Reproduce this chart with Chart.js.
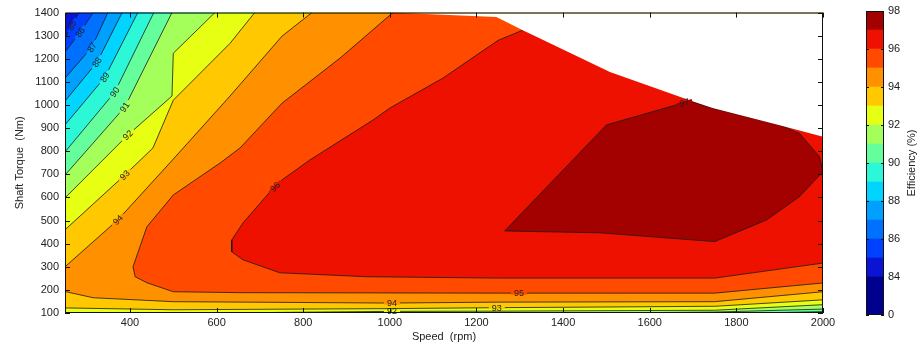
<!DOCTYPE html>
<html>
<head>
<meta charset="utf-8">
<title>Efficiency map</title>
<script src="https://cdn.jsdelivr.net/npm/chart.js@4.4.1/dist/chart.umd.min.js"></script>
<style>
  body { margin: 0; background: #fff; }
  #wrap { position: relative; width: 921px; height: 346px; }
  #map { position: absolute; left: 0; top: 0; }
  #bar { position: absolute; left: 840px; top: 0; }
</style>
</head>
<body>
<div id="wrap">
  <canvas id="map" width="840" height="346"></canvas>
  <canvas id="bar" width="81" height="346"></canvas>
</div>
<script>
Chart.defaults.font.family = '"Liberation Sans", Arial, Helvetica, sans-serif';
Chart.defaults.font.size = 11;
Chart.defaults.color = '#262626';

const speedTicks = [400, 600, 800, 1000, 1200, 1400, 1600, 1800, 2000];
const torqueTicks = [100, 200, 300, 400, 500, 600, 700, 800, 900, 1000, 1100, 1200, 1300, 1400];

// colour bands: 0-84, 84-85, 85-86 ... 97-98
const bandColors = ['#00008f', '#0a14d4', '#0040ff', '#0070ff', '#00a0ff', '#00d4ff', '#2cf8d8',
  '#64ff9c', '#a4ff5a', '#e6ff12', '#ffc800', '#ff9000', '#ff4a00', '#ee1100', '#a30000'];
const barHeights = [2, 1, 1, 1, 1, 1, 1, 1, 1, 1, 1, 1, 1, 1, 1];
const barLabels = ['0', '84', '86', '88', '90', '92', '94', '96', '98'];

// iso-efficiency lines, [rpm, Nm]
const iso85 = [[282, 1400], [250, 1290]];
const iso86 = [[315, 1400], [285, 1315], [250, 1229]];
const iso87 = [[349, 1400], [312, 1250], [250, 1116]];
const iso88 = [[382, 1400], [324, 1185], [250, 1017]];
const iso89 = [[418, 1400], [342, 1120], [250, 914]];
const iso90 = [[455, 1400], [365, 1056], [250, 797]];
const iso90Low = [[1850, 100], [2000, 106]];
const iso91 = [[497, 1400], [388, 991], [250, 697]];
const iso91Low = [[1485, 100], [1750, 104], [2000, 117]];
const iso92 = [[596, 1400], [500, 1224], [497, 1039], [395, 870], [250, 598]];
const iso92Low = [[600, 100], [1000, 107], [1250, 108], [1750, 112], [2000, 136]];
const iso93 = [[688, 1400], [631, 1267], [500, 1021], [453, 814], [388, 697], [250, 460]];
const iso93Low = [[250, 122], [500, 114], [1000, 119], [1250, 123], [1750, 129], [2000, 157]];
const iso94 = [[820, 1400], [751, 1298], [631, 1039], [500, 766], [372, 503], [250, 300]];
const iso94Low = [[250, 193], [315, 166], [500, 149], [1000, 143], [1250, 147], [1750, 149], [2000, 192]];
const iso95 = [[1007, 1400], [885, 1203], [751, 1008], [654, 814], [608, 749], [500, 611], [439, 473],
  [407, 300], [412, 257], [439, 231], [500, 192], [654, 188], [1250, 186], [1750, 186], [2000, 230]];
const iso96 = [[1307, 1324], [1250, 1280], [1122, 1116], [1000, 987], [961, 935], [815, 762], [751, 676],
  [723, 624], [661, 490], [635, 416], [635, 365], [661, 330], [746, 274], [947, 257], [1250, 251],
  [1750, 251], [2000, 316]];
const iso97 = [[1265, 455], [1500, 914], [1692, 1017], [1745, 987], [1900, 914], [1946, 877], [1992, 776],
  [2000, 712], [1946, 604], [1870, 503], [1750, 409], [1485, 447], [1265, 455]];

// torque limit of the drive
const limitSpeed = [1000, 1246, 1307, 1508, 1692, 1745, 1900, 2000];
const limitTorque = [1400, 1381, 1324, 1143, 1021, 987, 913, 863];

// inline contour labels
const labelLevels = [85, 86, 87, 88, 89, 90, 91, 92, 93, 94, 96, 97, 95, 94, 93, 92];
const labelRpm = [266, 285, 312, 324, 342, 365, 388, 395, 388, 372, 735, 1680, 1298, 1005, 1247, 1005];
const labelNm = [1345, 1315, 1250, 1185, 1120, 1056, 991, 870, 697, 503, 646, 1010, 186, 143, 123, 107];
const labelAngle = [-62, -55, -57, -57, -57, -57, -57, -44, -43, -45, -45, -16, 0, 0, 0, 0];

const corner = [[2000, 1400]];
const leftBottom = [[250, 100]];
const plotBox = [[250, 100], [2000, 100], [2000, 1400], [250, 1400]];

// filled regions from lowest to highest efficiency
const regions = [
  { level: 84, pts: plotBox },
  { level: 85, pts: [...iso85, ...leftBottom, [2000, 100], ...corner] },
  { level: 86, pts: [...iso86, ...leftBottom, [2000, 100], ...corner] },
  { level: 87, pts: [...iso87, ...leftBottom, [2000, 100], ...corner] },
  { level: 88, pts: [...iso88, ...leftBottom, [2000, 100], ...corner] },
  { level: 89, pts: [...iso89, ...leftBottom, [2000, 100], ...corner] },
  { level: 90, pts: [...iso90, ...leftBottom, ...iso90Low, ...corner] },
  { level: 91, pts: [...iso91, ...leftBottom, ...iso91Low, ...corner] },
  { level: 92, pts: [...iso92, ...leftBottom, ...iso92Low, ...corner] },
  { level: 93, pts: [...iso93, ...iso93Low, ...corner] },
  { level: 94, pts: [...iso94, ...iso94Low, ...corner] },
  { level: 95, pts: [...iso95, ...corner] },
  { level: 96, pts: [...iso96, ...corner] },
  { level: 97, pts: iso97 }
];

const toXY = list => list.map(([x, y]) => ({ x: x, y: y }));

const datasets = regions.map((r, i) => ({
  data: toXY(r.pts),
  showLine: true,
  fill: 'shape',
  backgroundColor: bandColors[r.level - 83],
  borderColor: r.level === 84 ? 'rgba(0,0,0,0)' : '#1a1a1a',
  borderWidth: 0.8,
  pointRadius: 0,
  order: regions.length - i + 1
}));

// blank out everything above the torque limit
datasets.push({
  data: toXY(limitSpeed.map((s, i) => [s, limitTorque[i]]).concat(corner)),
  showLine: true,
  fill: 'shape',
  backgroundColor: '#ffffff',
  borderColor: 'rgba(0,0,0,0)',
  borderWidth: 0,
  pointRadius: 0,
  order: 0
});

const contourLabels = {
  id: 'contourLabels',
  afterDatasetsDraw(chart) {
    const { ctx, scales: { x, y } } = chart;
    ctx.save();
    ctx.font = '9px "Liberation Sans", Arial, sans-serif';
    ctx.textAlign = 'center';
    ctx.textBaseline = 'middle';
    labelLevels.forEach((lv, i) => {
      const txt = String(lv);
      ctx.save();
      ctx.translate(x.getPixelForValue(labelRpm[i]), y.getPixelForValue(labelNm[i]));
      ctx.rotate(labelAngle[i] * Math.PI / 180);
      const w = ctx.measureText(txt).width;
      ctx.fillStyle = bandColors[lv - 83];
      ctx.fillRect(-w / 2 - 3, -1.5, w + 6, 3);
      ctx.fillStyle = '#1e1e1e';
      ctx.fillText(txt, 0, 0.5);
      ctx.restore();
    });
    ctx.restore();
  }
};

const axisFrame = {
  id: 'axisFrame',
  afterDraw(chart) {
    const { ctx, chartArea: a, scales: { x, y } } = chart;
    ctx.save();
    ctx.strokeStyle = '#111';
    ctx.lineWidth = 1;
    ctx.beginPath();
    ctx.rect(a.left + 0.5, a.top + 0.5, a.right - a.left - 1, a.bottom - a.top - 1);
    speedTicks.forEach(v => {
      const px = Math.round(x.getPixelForValue(v)) + 0.5;
      ctx.moveTo(px, a.bottom); ctx.lineTo(px, a.bottom - 5);
      ctx.moveTo(px, a.top); ctx.lineTo(px, a.top + 5);
    });
    torqueTicks.forEach(v => {
      const py = Math.round(y.getPixelForValue(v)) + 0.5;
      ctx.moveTo(a.left, py); ctx.lineTo(a.left + 5, py);
      ctx.moveTo(a.right, py); ctx.lineTo(a.right - 5, py);
    });
    ctx.stroke();
    ctx.restore();
  }
};

new Chart(document.getElementById('map'), {
  type: 'scatter',
  data: { datasets: datasets },
  options: {
    responsive: false,
    animation: false,
    devicePixelRatio: 1,
    events: [],
    layout: { padding: { top: 12, right: 17, left: 0, bottom: 0 } },
    plugins: { legend: { display: false }, tooltip: { enabled: false } },
    elements: { line: { tension: 0 } },
    scales: {
      x: {
        type: 'linear', min: 250, max: 2000,
        afterBuildTicks: s => { s.ticks = speedTicks.map(v => ({ value: v })); },
        afterFit: s => { s.height = 33; },
        grid: { display: false, drawTicks: false },
        border: { display: false },
        ticks: { padding: 3, maxRotation: 0, autoSkip: false, color: '#222', callback: v => String(v) },
        title: { display: true, text: 'Speed  (rpm)', color: '#222', padding: { top: 0, bottom: 2 } }
      },
      y: {
        type: 'linear', min: 100, max: 1400,
        afterBuildTicks: s => { s.ticks = torqueTicks.map(v => ({ value: v })); },
        afterFit: s => { s.width = 65; },
        grid: { display: false, drawTicks: false },
        border: { display: false },
        ticks: { padding: 6, autoSkip: false, color: '#222', callback: v => String(v) },
        title: { display: true, text: 'Shaft Torque  (Nm)', color: '#222', padding: { top: 13, bottom: 0 } }
      }
    }
  },
  plugins: [contourLabels, axisFrame]
});

const barFrame = {
  id: 'barFrame',
  afterDraw(chart) {
    const { ctx, chartArea: a, scales: { y } } = chart;
    ctx.save();
    ctx.strokeStyle = '#111';
    ctx.lineWidth = 1;
    ctx.beginPath();
    ctx.rect(a.left + 0.5, a.top + 0.5, a.right - a.left - 1, a.bottom - a.top - 1);
    barLabels.forEach((_, i) => {
      const py = Math.round(y.getPixelForValue(i * 2)) + 0.5;
      ctx.moveTo(a.left, py); ctx.lineTo(a.left + 3, py);
      ctx.moveTo(a.right, py); ctx.lineTo(a.right - 3, py);
    });
    ctx.stroke();
    ctx.translate(72, (a.top + a.bottom) / 2);
    ctx.rotate(-Math.PI / 2);
    ctx.font = '11px "Liberation Sans", Arial, sans-serif';
    ctx.fillStyle = '#222';
    ctx.textAlign = 'center';
    ctx.textBaseline = 'middle';
    ctx.fillText('Efficiency (%)', 0, 0);
    ctx.restore();
  }
};

new Chart(document.getElementById('bar'), {
  type: 'bar',
  data: {
    labels: [''],
    datasets: bandColors.map((c, i) => ({
      data: [barHeights[i]],
      backgroundColor: c,
      borderWidth: 0,
      barPercentage: 1,
      categoryPercentage: 1
    }))
  },
  options: {
    responsive: false,
    animation: false,
    devicePixelRatio: 1,
    events: [],
    layout: { padding: { left: 26, top: 11, bottom: 31, right: 0 } },
    plugins: { legend: { display: false }, tooltip: { enabled: false } },
    scales: {
      x: { display: false, stacked: true },
      y: {
        stacked: true, position: 'right', min: 0, max: 16,
        afterBuildTicks: s => { s.ticks = barLabels.map((_, i) => ({ value: i * 2 })); },
        afterFit: s => { s.width = 37; },
        grid: { display: false, drawTicks: false },
        border: { display: false },
        ticks: { padding: 4, color: '#222', callback: v => barLabels[v / 2] }
      }
    }
  },
  plugins: [barFrame]
});
</script>
</body>
</html>
